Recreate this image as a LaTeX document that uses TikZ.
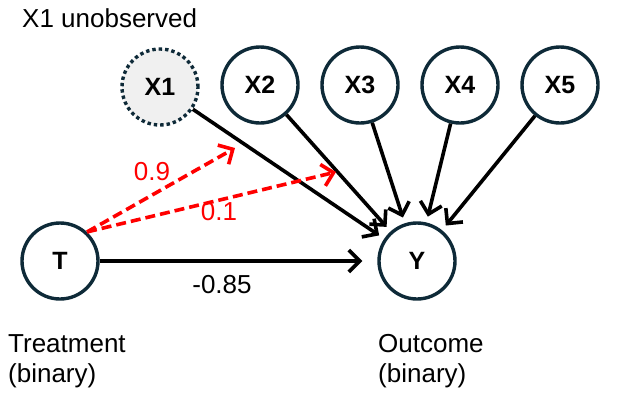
\documentclass[tikz,border=0pt]{standalone}
\usepackage{fontspec}
\setmainfont{Liberation Sans}
\usetikzlibrary{arrows.meta}
\definecolor{ring}{HTML}{0E2A38}
\begin{document}
\begin{tikzpicture}[x=1pt,y=-1pt,
  var/.style={circle,draw=ring,line width=3.4pt,minimum size=76pt,inner sep=0pt,font=\bfseries\fontsize{25}{28}\selectfont,fill=white},
  hidden/.style={var,dotted,dash pattern=on 3.4pt off 3pt,fill=gray!12},
  edge/.style={line width=3.6pt,shorten >=6pt,-{Straight Barb[length=11pt,width=22pt,line width=3.6pt]}},
  redge/.style={edge,shorten >=0pt,red,dashed,dash pattern=on 10pt off 5pt},
  lab/.style={font=\fontsize{26}{30}\selectfont,inner sep=0pt},
  rlab/.style={lab,text=red},
  txt/.style={font=\fontsize{26}{30}\selectfont,anchor=base west,inner sep=0pt}]
\useasboundingbox (0,0) rectangle (617,402);
\node[hidden] (x1) at (160,87) {X1};
\node[var] (x2) at (260,85) {X2};
\node[var] (x3) at (360,85) {X3};
\node[var] (x4) at (460,85) {X4};
\node[var] (x5) at (560,85) {X5};
\node[var] (t) at (60,261) {T};
\node[var] (y) at (417,261) {Y};
\coordinate (r1) at (235,148);
\coordinate (r2) at (336,172);
\draw[edge] (x1) -- (y);
\draw[edge] (x2) -- (y);
\draw[edge] (x3) -- (y);
\draw[edge] (x4) -- (y);
\draw[edge] (x5) -- (y);
\draw[edge,shorten >=15pt] (t) -- (y);
\node[lab] (l85) at (222,285) {-0.85};
\draw[redge] (t.north east) ++(-1,-1) coordinate (ts) -- (r1);
\draw[redge] (ts) -- (r2);
\node[rlab] (l9) at (152,172) {0.9};
\node[rlab] (l1) at (219,212) {0.1};
\node[txt] (un) at (22,27) {X1 unobserved};
\node[txt] (tr1) at (8,352) {Treatment};
\node[txt] (tr2) at (8,382) {(binary)};
\node[txt] (oc1) at (378,352) {Outcome};
\node[txt] (oc2) at (378,382) {(binary)};
\end{tikzpicture}
\end{document}
